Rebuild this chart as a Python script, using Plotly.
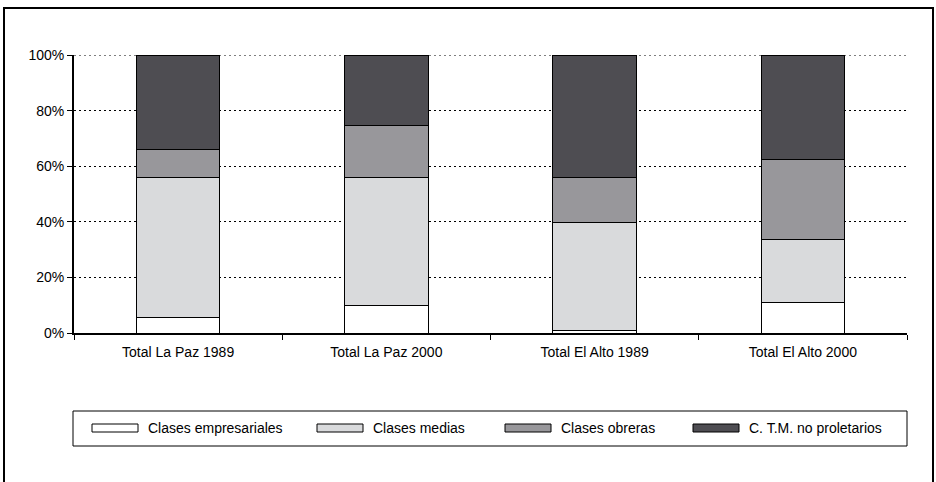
import plotly.graph_objects as go

categories = ["Total La Paz 1989", "Total La Paz 2000", "Total El Alto 1989", "Total El Alto 2000"]
series_names = ["Clases empresariales", "Clases medias", "Clases obreras", "C. T.M. no proletarios"]
empresariales = [5.4, 10.0, 0.9, 11.1]
medias = [50.7, 46.1, 38.8, 22.7]
obreras = [9.9, 18.5, 16.4, 28.5]
no_proletarios = [34.0, 25.4, 43.9, 37.7]
y_ticks = [0, 20, 40, 60, 80, 100]
y_tick_labels = ["0%", "20%", "40%", "60%", "80%", "100%"]

colors = ["#ffffff", "#d9dadc", "#98979b", "#4e4d52"]
series_values = [empresariales, medias, obreras, no_proletarios]

W, H = 936, 482
L, R, T, B = 74, 29, 55, 149
pw, ph = W - L - R, H - T - B

def px(x):
    return (x - L) / pw

def py(y):
    return (H - B - y) / ph

FONT = "Liberation Sans, Arial, sans-serif"

fig = go.Figure()
for name, vals, col in zip(series_names, series_values, colors):
    fig.add_trace(go.Bar(
        x=categories, y=vals, name=name,
        marker=dict(color=col, line=dict(color="#000000", width=1)),
        showlegend=False,
    ))

fig.update_layout(
    width=W, height=H,
    margin=dict(l=L, r=R, t=T, b=B),
    barmode="stack", bargap=0.6,
    plot_bgcolor="white", paper_bgcolor="white",
    font=dict(family=FONT, size=14, color="#000000"),
    xaxis=dict(
        showline=True, linecolor="#000000", linewidth=2,
        ticks="outside", tickson="boundaries", ticklen=5, tickcolor="#000000", tickwidth=1,
        showgrid=False, tickfont=dict(size=14), ticklabelstandoff=5,
    ),
    yaxis=dict(
        range=[0, 100], tickvals=y_ticks, ticktext=y_tick_labels,
        showline=True, linecolor="#000000", linewidth=2,
        ticks="outside", ticklen=5, tickcolor="#000000", tickwidth=1,
        showgrid=True, gridcolor="#000000", gridwidth=1, griddash="2px,3px",
        zeroline=False, tickfont=dict(size=14),
    ),
)

shapes = []
# top gridline (at the range edge)
shapes.append(dict(type="line", xref="paper", yref="y", x0=0, x1=1, y0=y_ticks[-1], y1=y_ticks[-1],
                   line=dict(color="#000000", width=1, dash="2px,3px"), layer="below"))
# outer frame
shapes.append(dict(type="rect", xref="paper", yref="paper",
                   x0=px(4), x1=px(933), y0=py(8), y1=py(492),
                   line=dict(color="#000000", width=2), fillcolor="rgba(0,0,0,0)", layer="above"))
# legend box
shapes.append(dict(type="rect", xref="paper", yref="paper",
                   x0=px(73), x1=px(907), y0=py(411), y1=py(446),
                   line=dict(color="#000000", width=1), fillcolor="rgba(0,0,0,0)"))
swatch_x = [92, 317, 505, 693]
annotations = []
for sx, name, col in zip(swatch_x, series_names, colors):
    shapes.append(dict(type="rect", xref="paper", yref="paper",
                       x0=px(sx), x1=px(sx + 46), y0=py(424), y1=py(432),
                       line=dict(color="#000000", width=1), fillcolor=col))
    annotations.append(dict(xref="paper", yref="paper", x=px(sx + 54), y=py(428),
                            text=name, showarrow=False, xanchor="left", yanchor="middle",
                            font=dict(size=14, family=FONT, color="#000000")))
fig.update_layout(shapes=shapes, annotations=annotations)

fig.write_html("out.html", config={"displayModeBar": False},
               post_script="document.body.style.margin='0px';")
